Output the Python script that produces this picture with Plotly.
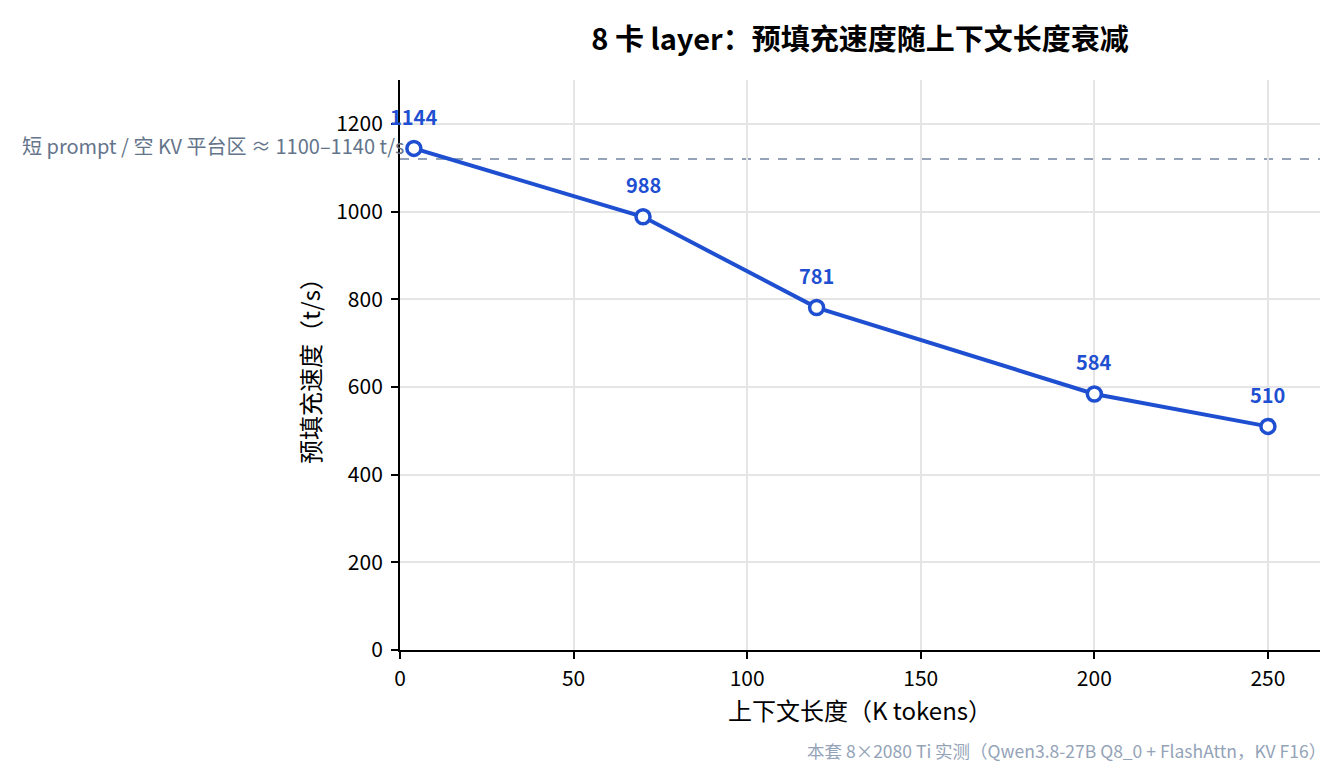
import plotly.graph_objects as go

context_k = [4, 70, 120, 200, 250]
prefill_tps = [1144, 988, 781, 584, 510]
plateau_level = 1120
x_ticks = [0, 50, 100, 150, 200, 250]
y_ticks = [0, 200, 400, 600, 800, 1000, 1200]

FONT = "Noto Sans CJK SC"
BLUE = "#1f4fd1"

fig = go.Figure()
fig.add_trace(go.Scatter(
    x=context_k, y=prefill_tps, mode="lines+markers",
    line=dict(color=BLUE, width=4),
    marker=dict(size=14, color="white", line=dict(color=BLUE, width=3.5)),
    showlegend=False, hoverinfo="x+y",
))

fig.add_shape(type="line", xref="paper", x0=0, x1=1, yref="y",
              y0=plateau_level, y1=plateau_level,
              line=dict(color="#94a3b8", width=2, dash="dash"), layer="below")

for x, y in zip(context_k, prefill_tps):
    fig.add_annotation(x=x, y=y, text=f"<b>{y}</b>", showarrow=False,
                       yanchor="middle", yshift=32,
                       font=dict(family=FONT, size=20, color=BLUE))

fig.add_annotation(x=0, y=plateau_level, xref="x", yref="y",
                   text="短 prompt / 空 KV 平台区 ≈ 1100–1140 t/s",
                   showarrow=False, xanchor="right", yanchor="bottom", xshift=6, yshift=-3,
                   font=dict(family=FONT, size=20, color="#64748b"))

fig.add_annotation(x=1, y=0, xref="paper", yref="paper",
                   text="本套 8×2080 Ti 实测（Qwen3.8-27B Q8_0 + FlashAttn，KV F16）",
                   showarrow=False, xanchor="right", yanchor="middle", yshift=-100, xshift=8,
                   font=dict(family=FONT, size=17.5, color="#94a3b8"))

fig.update_layout(
    width=1336, height=760,
    margin=dict(l=392, r=24, t=72, b=118),
    paper_bgcolor="white", plot_bgcolor="white",
    font=dict(family=FONT, color="black", size=20),
    title=dict(text="<b>8 卡 layer：预填充速度随上下文长度衰减</b>",
               x=0.6377, xanchor="center", y=0.958, yanchor="middle",
               font=dict(family=FONT, size=29, color="black")),
)
fig.update_xaxes(range=[0, 265], tickvals=x_ticks, showgrid=True, gridcolor="#e5e5e5",
                 gridwidth=1.5, showline=True, linecolor="black", linewidth=2,
                 ticks="outside", ticklen=7, tickwidth=2, tickcolor="black",
                 zeroline=False, tickfont=dict(size=21), ticklabelstandoff=2,
                 title=dict(text="上下文长度（K tokens）", font=dict(size=24), standoff=5))
fig.update_yaxes(range=[0, 1300], tickvals=y_ticks, showgrid=True, gridcolor="#e5e5e5",
                 gridwidth=1.5, showline=True, linecolor="black", linewidth=2,
                 ticks="outside", ticklen=7, tickwidth=2, tickcolor="black",
                 zeroline=False, tickfont=dict(size=21), ticklabelstandoff=4,
                 title=dict(text="预填充速度（t/s）", font=dict(size=24), standoff=9))

fig.write_html("out.html")
